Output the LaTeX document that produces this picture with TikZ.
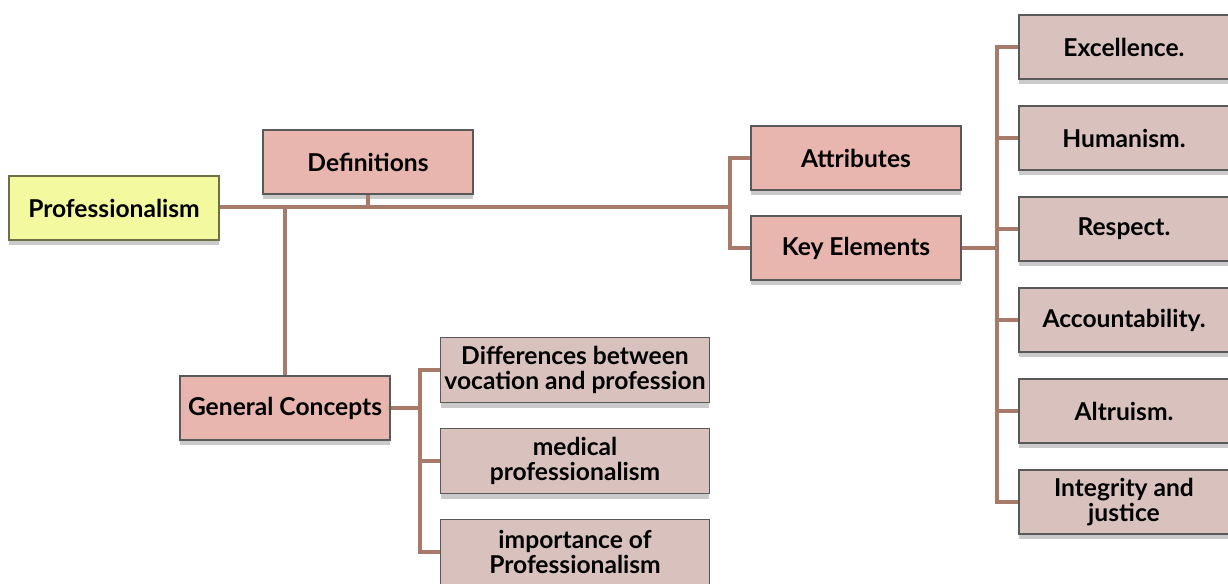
\documentclass[tikz,border=0pt]{standalone}
\usepackage{fontspec}
\setmainfont{Lato}
\usepackage{tikz}
\usetikzlibrary{shapes,fit,calc,positioning,shadows}
\definecolor{yellowbox}{RGB}{243,249,158}
\definecolor{pinkbox}{RGB}{232,182,174}
\definecolor{greybox}{RGB}{217,194,190}
\definecolor{linkline}{RGB}{168,122,106}
\tikzset{
  topic/.style={draw=black!65, line width=1pt, minimum width=4.2cm, minimum height=1.28cm,
                align=center, inner sep=1pt, font=\bfseries\fontsize{14}{14.5}\selectfont,
                drop shadow={shadow xshift=0pt, shadow yshift=-3pt, opacity=.35, fill=black!60}},
  root/.style={topic, fill=yellowbox, draw=yellowbox!45!black},
  branch/.style={topic, fill=pinkbox},
  leaf/.style={topic, fill=greybox},
  wide/.style={leaf, minimum width=5.38cm, minimum height=1.3cm},
  link/.style={draw=linkline, line width=2.5pt}
}
\begin{document}
\begin{tikzpicture}[x=0.02cm,y=-0.02cm]
    \useasboundingbox (0,0) rectangle (1228,583);
    \node[root]   (prof)  at (114,208) {Professionalism};
    \node[branch] (defs)  at (368,162) {Definitions};
    \node[branch] (attr)  at (856,158) {Attributes};
    \node[branch] (keys)  at (856,248) {Key Elements};
    \node[branch] (gen)   at (285,408) {General Concepts};
    \node[wide]   (diff)  at (575,370) {Differences between\\vocation and profession};
    \node[wide]   (med)   at (575,461) {medical\\professionalism};
    \node[wide]   (imp)   at (575,552) {importance of\\Professionalism};
    \node[leaf]   (exc)   at (1124,47)  {Excellence.};
    \node[leaf]   (hum)   at (1124,138) {Humanism.};
    \node[leaf]   (resp)  at (1124,229) {Respect.};
    \node[leaf]   (acc)   at (1124,320) {Accountability.};
    \node[leaf]   (alt)   at (1124,411) {Altruism.};
    \node[leaf]   (integ) at (1124,502) {Integrity and\\justice};
    \begin{scope}[on background layer/.try]
      \coordinate (hub)  at (730,207);
      \coordinate (kbus) at (997,248);
      \coordinate (gbus) at (420,408);
      \draw[link] (prof.east |- hub) -- (hub);
      \draw[link] (defs.south) -- (defs.south |- hub);
      \draw[link] (gen.north -| 285,0) -- (285,207);
      \draw[link] (attr.west) -| (hub) |- (keys.west);
      \draw[link] (keys.east) -- (kbus);
      \foreach \n in {exc,hum,resp,acc,alt,integ}
        \draw[link] (\n.west) -| (kbus);
      \draw[link] (gen.east) -- (gbus);
      \foreach \n in {diff,med,imp}
        \draw[link] (\n.west) -| (gbus);
    \end{scope}
\end{tikzpicture}
\end{document}
